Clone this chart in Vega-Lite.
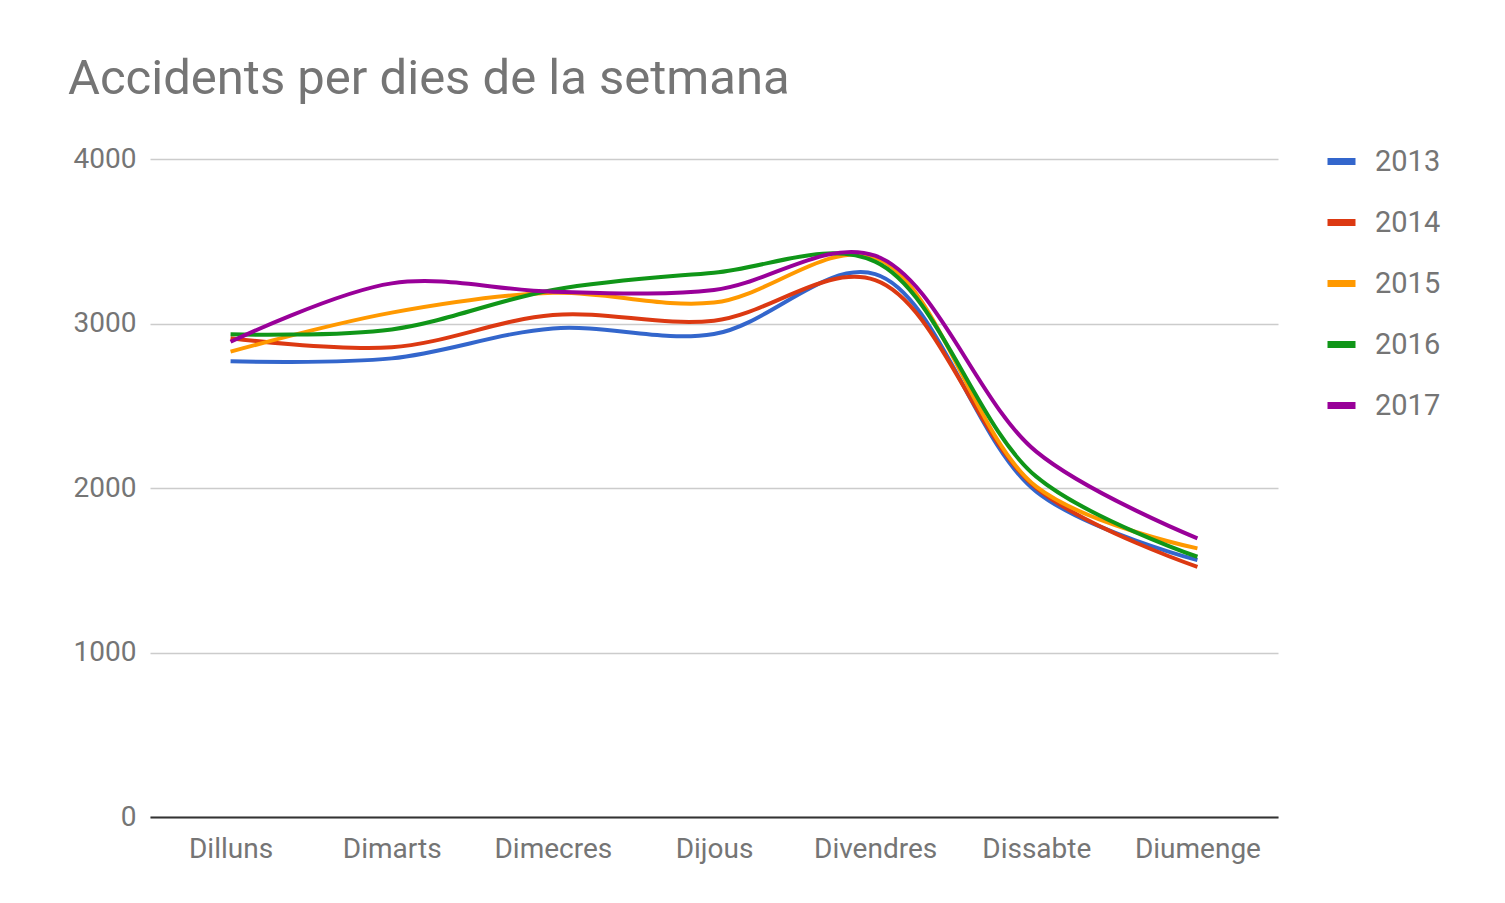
{
  "$schema": "https://vega.github.io/schema/vega-lite/v6.json",
  "width": 1128,
  "height": 658,
  "autosize": {"type": "none"},
  "padding": {"left": 150, "top": 159, "right": 227, "bottom": 86},
  "background": "white",
  "title": {
    "text": "Accidents per dies de la setmana",
    "anchor": "start",
    "frame": "group",
    "dx": -82,
    "offset": 40,
    "font": "Roboto",
    "fontSize": 49,
    "fontWeight": "normal",
    "color": "#757575"
  },
  "data": {
    "values": [
      {"dia": "Dilluns", "any": "2013", "accidents": 2770},
      {"dia": "Dimarts", "any": "2013", "accidents": 2788},
      {"dia": "Dimecres", "any": "2013", "accidents": 2970},
      {"dia": "Dijous", "any": "2013", "accidents": 2936},
      {"dia": "Divendres", "any": "2013", "accidents": 3300},
      {"dia": "Dissabte", "any": "2013", "accidents": 1978},
      {"dia": "Diumenge", "any": "2013", "accidents": 1562},
      {"dia": "Dilluns", "any": "2014", "accidents": 2910},
      {"dia": "Dimarts", "any": "2014", "accidents": 2855},
      {"dia": "Dimecres", "any": "2014", "accidents": 3052},
      {"dia": "Dijous", "any": "2014", "accidents": 3017},
      {"dia": "Divendres", "any": "2014", "accidents": 3264},
      {"dia": "Dissabte", "any": "2014", "accidents": 2000},
      {"dia": "Diumenge", "any": "2014", "accidents": 1521},
      {"dia": "Dilluns", "any": "2015", "accidents": 2829},
      {"dia": "Dimarts", "any": "2015", "accidents": 3066},
      {"dia": "Dimecres", "any": "2015", "accidents": 3187},
      {"dia": "Dijous", "any": "2015", "accidents": 3127},
      {"dia": "Divendres", "any": "2015", "accidents": 3400},
      {"dia": "Dissabte", "any": "2015", "accidents": 2008},
      {"dia": "Diumenge", "any": "2015", "accidents": 1633},
      {"dia": "Dilluns", "any": "2016", "accidents": 2934},
      {"dia": "Dimarts", "any": "2016", "accidents": 2964},
      {"dia": "Dimecres", "any": "2016", "accidents": 3204},
      {"dia": "Dijous", "any": "2016", "accidents": 3309},
      {"dia": "Divendres", "any": "2016", "accidents": 3376},
      {"dia": "Dissabte", "any": "2016", "accidents": 2069},
      {"dia": "Diumenge", "any": "2016", "accidents": 1582},
      {"dia": "Dilluns", "any": "2017", "accidents": 2889},
      {"dia": "Dimarts", "any": "2017", "accidents": 3244},
      {"dia": "Dimecres", "any": "2017", "accidents": 3193},
      {"dia": "Dijous", "any": "2017", "accidents": 3204},
      {"dia": "Divendres", "any": "2017", "accidents": 3412},
      {"dia": "Dissabte", "any": "2017", "accidents": 2221},
      {"dia": "Diumenge", "any": "2017", "accidents": 1694}
    ]
  },
  "mark": {"type": "line", "interpolate": "catmull-rom", "strokeWidth": 4},
  "encoding": {
    "x": {
      "field": "dia",
      "type": "nominal",
      "sort": ["Dilluns", "Dimarts", "Dimecres", "Dijous", "Divendres", "Dissabte", "Diumenge"],
      "scale": {"type": "point", "padding": 0.5},
      "axis": {
        "title": null,
        "labelAngle": 0,
        "ticks": false,
        "domainColor": "#333333",
        "domainWidth": 2,
        "labelPadding": 18,
        "labelFont": "Roboto",
        "labelFontSize": 28,
        "labelColor": "#757575"
      }
    },
    "y": {
      "field": "accidents",
      "type": "quantitative",
      "scale": {"domain": [0, 4000], "nice": false},
      "axis": {
        "title": null,
        "values": [0, 1000, 2000, 3000, 4000],
        "format": "d",
        "ticks": false,
        "domain": false,
        "gridColor": "#cccccc",
        "gridWidth": 1.5,
        "labelPadding": 14,
        "labelFont": "Roboto",
        "labelFontSize": 28,
        "labelColor": "#757575"
      }
    },
    "color": {
      "field": "any",
      "type": "nominal",
      "scale": {
        "domain": ["2013", "2014", "2015", "2016", "2017"],
        "range": ["#3366cc", "#dc3912", "#ff9900", "#109618", "#990099"]
      },
      "legend": {
        "title": null,
        "orient": "none",
        "legendX": 1174,
        "legendY": -15,
        "symbolType": "stroke",
        "symbolSize": 784,
        "symbolStrokeWidth": 7,
        "labelFont": "Roboto",
        "labelFontSize": 29,
        "labelColor": "#757575",
        "labelOffset": 16,
        "rowPadding": 28
      }
    }
  },
  "config": {"view": {"stroke": null}}
}
